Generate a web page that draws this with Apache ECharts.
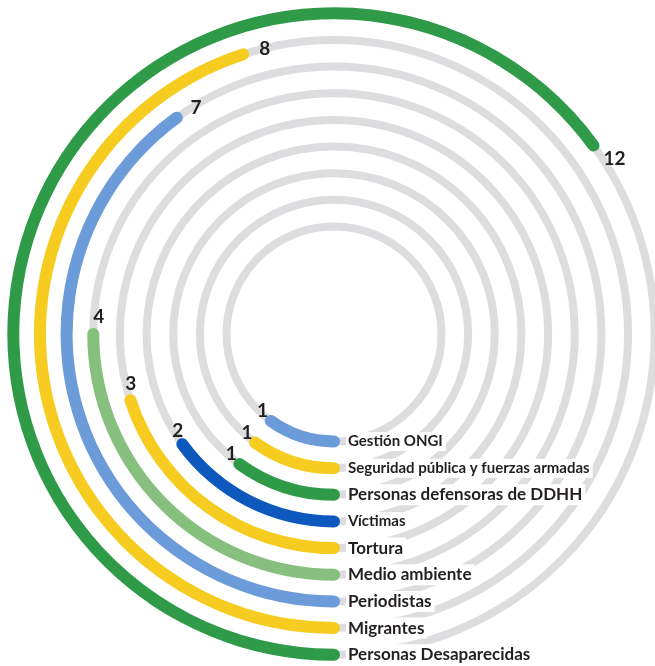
<!DOCTYPE html>
<html>
<head>
<meta charset="utf-8">
<style>
  html, body { margin: 0; padding: 0; background: #fff; }
  #chart { width: 655px; height: 666px; }
</style>
<script src="https://cdn.jsdelivr.net/npm/echarts@6/dist/echarts.min.js"></script>
</head>
<body>
<div id="chart"></div>
<script>
// anillos de dentro hacia fuera
const categories = [
  'Gestión ONGI',
  'Seguridad pública y fuerzas armadas',
  'Personas defensoras de DDHH',
  'Víctimas',
  'Tortura',
  'Medio ambiente',
  'Periodistas',
  'Migrantes',
  'Personas Desaparecidas'
]
const values = [1, 1, 1, 2, 3, 4, 7, 8, 12]
const colors = [
  '#6b9bd9', '#f5cc1f', '#2f9a47', '#0d58bd', '#f5cc1f',
  '#86bf7e', '#6b9bd9', '#f5cc1f', '#2f9a47'
]
// n = texto estrecho, w = texto ancho
const labelKind = ['n', 'n', 'w', 'n', 'w', 'w', 'w', 'w', 'w']

const chart = echarts.init(document.getElementById('chart'))

chart.setOption({
  animation: false,
  polar: {
    center: [334, 334],
    radius: [107.5, 320.7]
  },
  angleAxis: {
    type: 'value',
    min: -1,
    max: 19,
    startValue: -1,
    startAngle: -90,
    clockwise: true,
    axisLine: { show: false },
    axisTick: { show: false },
    axisLabel: { show: false },
    splitLine: { show: false }
  },
  radiusAxis: {
    type: 'category',
    data: categories,
    boundaryGap: false,
    axisLine: { show: false },
    axisTick: { show: false },
    axisLabel: {
      interval: 0,
      margin: 12,
      color: '#231f20',
      backgroundColor: '#fff',
      padding: [2, 3, 2, 2],
      formatter: (v, i) => '{' + labelKind[i] + '|' + v + '}',
      rich: {
        n: { fontFamily: 'Lato', fontWeight: 'bold', fontSize: 15, color: '#231f20' },
        w: { fontFamily: 'Lato', fontWeight: 'bold', fontSize: 17, color: '#231f20' }
      }
    },
    splitLine: {
      show: true,
      interval: 0,
      lineStyle: { color: '#dddde0', width: 8 }
    }
  },
  series: [
    {
      type: 'bar',
      coordinateSystem: 'polar',
      barWidth: 12,
      roundCap: true,
      clip: false,
      data: values.map((v, i) => ({ value: v, itemStyle: { color: colors[i] } })),
      label: {
        show: true,
        position: 'end',
        rotate: 0,
        distance: 11,
        formatter: '{c}',
        fontFamily: 'Lato',
        fontWeight: 'bold',
        fontSize: 19,
        color: '#231f20'
      }
    }
  ]
})
</script>
</body>
</html>
